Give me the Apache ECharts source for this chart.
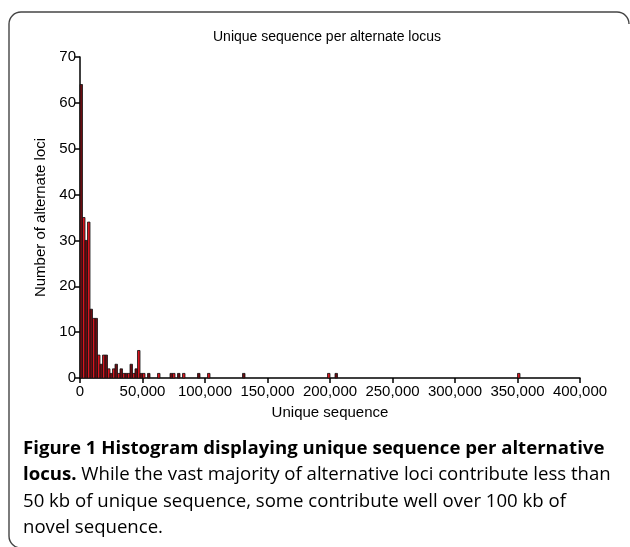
<!DOCTYPE html>
<html>
<head>
<meta charset="utf-8">
<script src="https://cdn.jsdelivr.net/npm/echarts@6/dist/echarts.min.js"></script>
<style>
html,body{margin:0;padding:0;background:#fff;}
#chart{width:630px;height:547px;}
</style>
</head>
<body>
<div id="chart"></div>
<script>
// Histogram bins (start of bin, in bp), bin width and counts
const binWidth = 2000;
const binStarts = [0, 2000, 4000, 6000, 8000, 10000, 12000, 14000, 16000, 18000, 20000, 22000, 24000, 26000, 28000, 30000, 32000, 34000, 36000, 38000, 40000, 42000, 44000, 46000, 48000, 50000, 54000, 62000, 72000, 74000, 78000, 82000, 94000, 102000, 130000, 198000, 204000, 350000];
const counts =    [64, 35, 30, 34, 15, 13, 13, 5, 3, 5, 5, 2, 1, 2, 3, 1, 2, 1, 1, 1, 3, 1, 2, 6, 1, 1, 1, 1, 1, 1, 1, 1, 1, 1, 1, 1, 1, 1];
const xTicks = [0, 50000, 100000, 150000, 200000, 250000, 300000, 350000, 400000];
const yTicks = [0, 10, 20, 30, 40, 50, 60, 70];

const titleText = 'Unique sequence per alternate locus';
const xName = 'Unique sequence';
const yName = 'Number of alternate loci';
const captionLines = [
  '{b|Figure 1 Histogram displaying unique sequence per alternative}',
  '{b|locus.}{r| While the vast majority of alternative loci contribute less than}',
  '{r|50 kb of unique sequence, some contribute well over 100 kb of}',
  '{r|novel sequence.}'
];

const data = binStarts.map((s, i) => [s, s + binWidth, counts[i]]);
const DARK = '#6a0c12', RED = '#d8141e';
const axisFont = 'Liberation Sans, Arial, sans-serif';

const chart = echarts.init(document.getElementById('chart'), null, {renderer: 'canvas'});
const capRich = {
  b: {fontFamily: 'Open Sans', fontWeight: 'bold', fontSize: 18.6, color: '#303030', lineHeight: 26},
  r: {fontFamily: 'Open Sans', fontWeight: 'normal', fontSize: 18.6, color: '#585858', lineHeight: 26}
};
const captionY = [449, 475, 502, 528];
const frameStyle = {fill: 'none', stroke: '#444', lineWidth: 1.4};

chart.setOption({
  animation: false,
  backgroundColor: '#fff',
  title: {
    text: titleText,
    left: 322, top: 25, textAlign: 'center',
    textStyle: {fontFamily: axisFont, fontSize: 14, fontWeight: 'normal', color: '#000'}
  },
  grid: {left: 80, right: 50, top: 57, bottom: 169},
  xAxis: {
    type: 'value', min: 0, max: 400000, interval: 50000,
    name: xName, nameLocation: 'middle', nameGap: 27,
    nameTextStyle: {fontFamily: axisFont, fontSize: 15, color: '#000'},
    axisLine: {show: true, lineStyle: {color: '#000', width: 1.5}},
    axisTick: {show: true, length: 5, lineStyle: {color: '#000', width: 1.5}},
    axisLabel: {fontFamily: axisFont, fontSize: 15, color: '#000', margin: 6,
      formatter: v => xTicks.includes(v) ? v.toLocaleString('en-US') : ''},
    splitLine: {show: false}
  },
  yAxis: {
    type: 'value', min: 0, max: 70, interval: 10,
    name: yName, nameLocation: 'middle', nameGap: 30, nameRotate: 90,
    nameTextStyle: {fontFamily: axisFont, fontSize: 15, color: '#000'},
    axisLine: {show: true, lineStyle: {color: '#000', width: 1.5}},
    axisTick: {show: true, length: 5, lineStyle: {color: '#000', width: 1.5}},
    axisLabel: {fontFamily: axisFont, fontSize: 15, color: '#000', margin: 4,
      formatter: v => yTicks.includes(v) ? String(v) : ''},
    splitLine: {show: false}
  },
  series: [{
    type: 'custom',
    data: data,
    encode: {x: [0, 1], y: 2},
    clip: false,
    renderItem: function (params, api) {
      const p0 = api.coord([api.value(0), api.value(2)]);
      const p1 = api.coord([api.value(1), 0]);
      return {
        type: 'rect',
        shape: {x: p0[0], y: p0[1], width: p1[0] - p0[0], height: p1[1] - p0[1]},
        style: {fill: params.dataIndex % 2 ? RED : DARK, stroke: '#111', lineWidth: 0.8}
      };
    }
  }],
  graphic: [
    {type: 'line', silent: true, shape: {x1: 9, y1: 24, x2: 9, y2: 536}, style: frameStyle},
    {type: 'line', silent: true, shape: {x1: 21, y1: 12, x2: 617, y2: 12}, style: frameStyle},
    {type: 'arc', silent: true, shape: {cx: 21, cy: 24, r: 12, startAngle: Math.PI, endAngle: Math.PI * 1.5}, style: frameStyle},
    {type: 'arc', silent: true, shape: {cx: 617, cy: 24, r: 12, startAngle: Math.PI * 1.5, endAngle: Math.PI * 2}, style: frameStyle},
    {type: 'arc', silent: true, shape: {cx: 21, cy: 536, r: 12, startAngle: Math.PI * 0.5, endAngle: Math.PI}, style: frameStyle}
  ].concat(captionLines.map((t, i) => ({
    type: 'text', silent: true,
    style: {x: 23, y: captionY[i], verticalAlign: 'middle', text: t, rich: capRich, fontSize: 18.6, fontFamily: 'Open Sans'}
  })))
});
</script>
</body>
</html>
